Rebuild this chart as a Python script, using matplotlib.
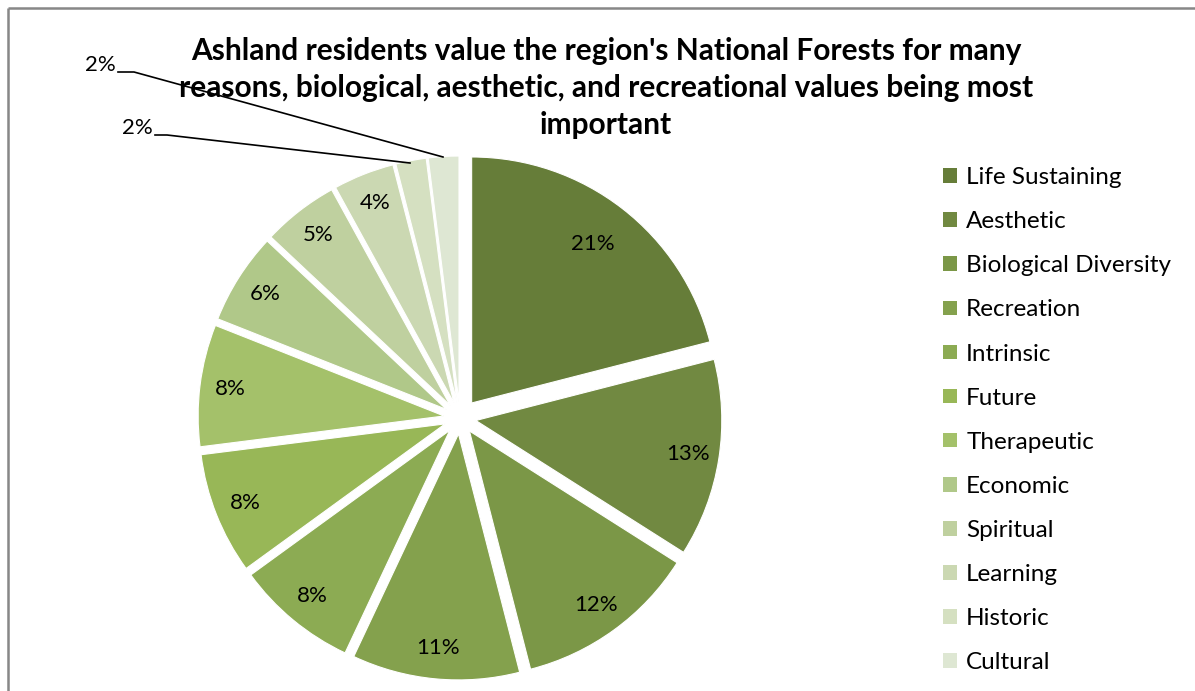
import matplotlib
matplotlib.use("Agg")
import matplotlib.pyplot as plt
from matplotlib.patches import Patch

categories = ["Life Sustaining", "Aesthetic", "Biological Diversity", "Recreation",
              "Intrinsic", "Future", "Therapeutic", "Economic", "Spiritual",
              "Learning", "Historic", "Cultural"]
shares = [21, 13, 12, 11, 8, 8, 8, 6, 5, 4, 2, 2]
colors = ["#667d39", "#718941", "#7b9747", "#84a14d", "#8cab53", "#98b757",
          "#a4c16a", "#b0c889", "#bfd09f", "#cbd8b2", "#d5e0c1", "#dee7d3"]
title = ("Ashland residents value the region's National Forests for many\n"
         "reasons, biological, aesthetic, and recreational values being most\n"
         "important")

plt.rcParams["font.family"] = ["Lato", "DejaVu Sans"]

W, H = 1195, 691
fig = plt.figure(figsize=(W / 100, H / 100), dpi=100)
ax = fig.add_axes([0, 0, 1, 1])

R = 246
cx, cy = 460, H - 418
explode = [16] * len(shares)
explode[0] = 19
wedges, texts, autotexts = ax.pie(
    shares, colors=colors, explode=explode, startangle=90, counterclock=False,
    radius=R, center=(cx, cy), autopct="%d%%", pctdistance=0.875,
    wedgeprops=dict(edgecolor="white", linewidth=0.8),
    textprops=dict(fontsize=16, color="black"))
# the largest slice carries its label a little further in
autotexts[0].set_position((cx + 133, cy + 174))

ax.set_xlim(0, W)
ax.set_ylim(0, H)
ax.set_aspect("equal")
ax.axis("off")

# chart frame (top and left edges visible)
ax.plot([8, W + 5], [H - 8, H - 8], color="#878787", lw=1.8, solid_capstyle="butt")
ax.plot([8, 8], [H - 8, -5], color="#878787", lw=1.8, solid_capstyle="butt")

# the two smallest slices get outside labels with leader lines
for t in autotexts[-2:]:
    t.set_visible(False)
ax.text(100, H - 65, "2%", fontsize=16, ha="center", va="center")
ax.plot([118, 134, 443], [H - 72, H - 72, H - 157], color="black", lw=1.2)
ax.text(137, H - 128, "2%", fontsize=16, ha="center", va="center")
ax.plot([155, 167, 410], [H - 135, H - 135, H - 163], color="black", lw=1.2)

ax.text(606, H - 88, title, fontsize=21.5, fontweight="bold", ha="center",
        va="center", linespacing=1.4)

handles = [Patch(facecolor=c, edgecolor="none") for c in colors]
ax.legend(handles, categories, loc="upper left", bbox_to_anchor=(931 / W, 1 - 155 / H),
          bbox_transform=fig.transFigure, frameon=False, fontsize=17.5,
          handlelength=0.55, handleheight=0.55, handletextpad=0.4,
          labelspacing=0.95, borderpad=0)

fig.savefig("out.png", dpi=100)
